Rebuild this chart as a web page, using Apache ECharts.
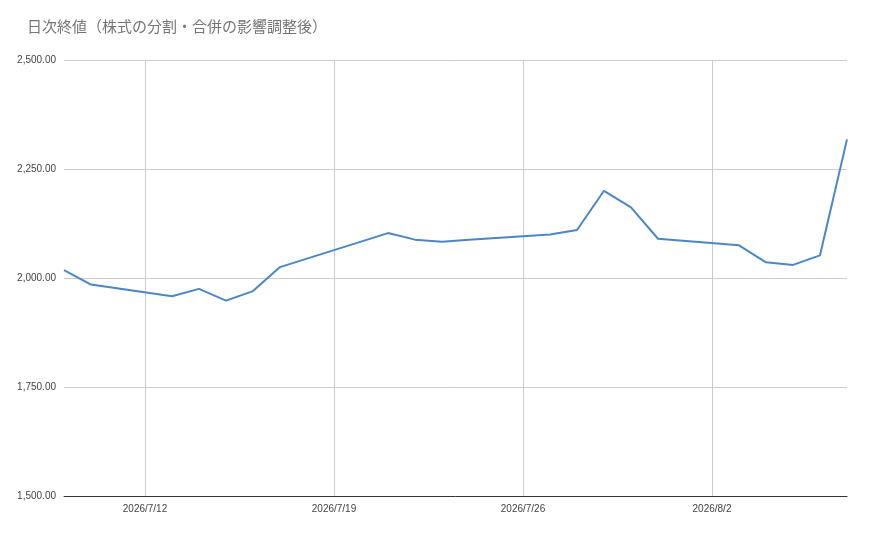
<!DOCTYPE html><html><head><meta charset="utf-8"><script src="https://cdn.jsdelivr.net/npm/echarts@6/dist/echarts.min.js"></script></head><body style="margin:0"><div id="c" style="width:870px;height:533px"></div><script>
const dates=['2026-07-09','2026-07-10','2026-07-13','2026-07-14','2026-07-15','2026-07-16','2026-07-17','2026-07-21','2026-07-22','2026-07-23','2026-07-24','2026-07-27','2026-07-28','2026-07-29','2026-07-30','2026-07-31','2026-08-03','2026-08-04','2026-08-05','2026-08-06','2026-08-07'];
const values=[2018,1985,1958,1975,1948,1970,2025,2103,2088,2083,2088,2100,2110,2200,2162,2090,2075,2036,2030,2052,2318];
const tickDates=['2026-07-12','2026-07-19','2026-07-26','2026-08-02'];
const DAY=86400000, base=Date.UTC(2026,6,12);
const day=s=>Math.round((Date.parse(s+'T00:00:00Z')-base)/DAY);
const ticks=tickDates.map(day);
const c=echarts.init(document.getElementById('c'));
c.setOption({animation:false,
title:{text:'日次終値（株式の分割・合併の影響調整後）',left:22,top:14,textStyle:{fontSize:15,fontWeight:'normal',color:'#757575',fontFamily:'Noto Sans CJK JP'}},
grid:{left:64,right:23,top:60,bottom:37},
xAxis:{type:'value',min:day('2026-07-09'),max:day('2026-08-07'),
axisLine:{onZero:false,lineStyle:{color:'#333'}},axisTick:{show:false,customValues:ticks},
axisLabel:{customValues:ticks,color:'#444',fontSize:10,formatter:v=>{const d=new Date(base+v*DAY);return d.getUTCFullYear()+'/'+(d.getUTCMonth()+1)+'/'+d.getUTCDate();}},
splitLine:{show:true,lineStyle:{color:'#ccc'}}},
yAxis:{type:'value',min:1500,max:2500,interval:250,axisLine:{show:false},axisTick:{show:false},
axisLabel:{color:'#444',fontSize:10,formatter:v=>v.toLocaleString('en-US',{minimumFractionDigits:2})},splitLine:{lineStyle:{color:'#ccc'}}},
series:[{type:'line',data:dates.map((d,i)=>[day(d),values[i]]),showSymbol:false,lineStyle:{color:'#4a86c8',width:2},itemStyle:{color:'#4a86c8'}}]});
</script></body></html>
